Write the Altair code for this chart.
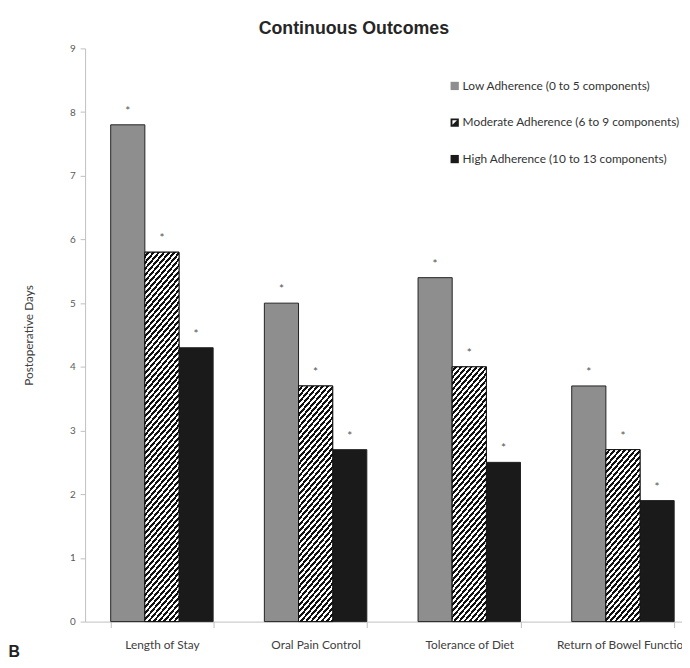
import math
import altair as alt
import pandas as pd

categories = ["Length of Stay", "Oral Pain Control", "Tolerance of Diet", "Return of Bowel Function"]
groups = ["Low Adherence (0 to 5 components)",
          "Moderate Adherence (6 to 9 components)",
          "High Adherence (10 to 13 components)"]
low_values = [7.8, 5.0, 5.4, 3.7]
moderate_values = [5.8, 3.7, 4.0, 2.7]
high_values = [4.3, 2.7, 2.5, 1.9]
y_ticks = [0, 1, 2, 3, 4, 5, 6, 7, 8, 9]

rows = []
for gi, vals in enumerate([low_values, moderate_values, high_values]):
    for c, v in zip(categories, vals):
        rows.append({"category": c, "group": groups[gi], "value": v})
df = pd.DataFrame(rows)

# layout
PAD_L, PAD_T, PAD_B = 78, 37, 35
W, H = 604, 580
X_RANGE = 622
STEP = X_RANGE / 4
BAR_W = STEP * (2 / 3) / 3
PX_PER_UNIT = H / 9

FONT = "Lato"
GRAY = "#8e8e8e"
BLACK = "#1a1a1a"


def hatch(value, angle=50, period=4.0):
    w = BAR_W
    h = value * PX_PER_UNIT
    th = math.radians(angle)
    s, c = math.sin(th), math.cos(th)
    L = s * w + c * h
    a, b = s * w / L, c * h / L
    D = a * a + b * b
    stops = []
    half = period / 2 / L
    j = 0
    while j * half < 1:
        col = "#ffffff" if j % 2 == 0 else "#111111"
        o0 = j * half
        o1 = min((j + 1) * half, 1.0)
        stops.append(alt.GradientStop(offset=o0, color=col))
        stops.append(alt.GradientStop(offset=o1, color=col))
        j += 1
    return alt.LinearGradient(gradient="linear", stops=stops,
                              x1=0, y1=0, x2=a / D, y2=b / D)


x_enc = alt.X("category:N", sort=categories,
              scale=alt.Scale(domain=categories, range=[0, X_RANGE],
                              paddingInner=1 / 3, paddingOuter=1 / 6),
              axis=alt.Axis(title="B", titleAnchor="start", titleAlign="left",
                            titleX=-78, titleY=35, titleBaseline="alphabetic",
                            titleFont="Liberation Sans", titleFontSize=16,
                            titleFontWeight="bold", titleColor="#222222",
                            labelAngle=0, labelFont=FONT, labelFontSize=12,
                            labelColor="#404040", labelPadding=12,
                            tickBand="extent", tickSize=6, tickColor="#bfbfbf",
                            domainColor="#bfbfbf", grid=False))
xoff_enc = alt.XOffset("group:N", sort=groups, scale=alt.Scale(domain=groups, paddingInner=0, paddingOuter=0))
y_enc = alt.Y("value:Q", scale=alt.Scale(domain=[0, 9], nice=False),
              axis=alt.Axis(title="Postoperative Days", values=y_ticks, grid=False,
                            titleFont=FONT, titleFontSize=12, titleFontWeight="normal",
                            titleColor="#404040", titlePadding=34,
                            labelFont=FONT, labelFontSize=10, labelColor="#595959",
                            labelPadding=5, tickSize=5, tickColor="#bfbfbf",
                            domainColor="#bfbfbf"))

color_scale = alt.Scale(domain=groups, range=[GRAY, BLACK, BLACK])
shape_scale = alt.Scale(domain=groups, range=[
    "square",
    "M-1,-1L1,-1L1,1L-1,1Z M-0.55,-0.55L-0.55,0.55L0.55,-0.55Z",
    "square"])

legend = alt.Legend(title=None, orient="none", legendX=368, legendY=32,
                    labelFont=FONT, labelFontSize=12, labelColor="#333333",
                    labelLimit=400,
                    symbolSize=70, symbolStrokeColor="#333333", symbolStrokeWidth=1,
                    symbolOpacity=1, rowPadding=23, labelOffset=2)

base = alt.Chart(df)

bars = base.mark_bar(stroke="#222222", strokeWidth=1).encode(
    x=x_enc, xOffset=xoff_enc, y=y_enc,
    color=alt.Color("group:N", scale=color_scale, legend=legend),
)

layers = [bars]
for cat, v in zip(categories, moderate_values):
    layers.append(
        base.transform_filter(
            (alt.datum.category == cat) & (alt.datum.group == groups[1])
        ).mark_bar(fill=hatch(v), stroke="#111111", strokeWidth=1).encode(
            x=x_enc, xOffset=xoff_enc, y=y_enc)
    )

pts = base.mark_point(filled=True, opacity=0, size=1).encode(
    x=x_enc, xOffset=xoff_enc, y=y_enc,
    color=alt.Color("group:N", scale=color_scale, legend=legend),
    shape=alt.Shape("group:N", scale=shape_scale, legend=legend),
)
layers.append(pts)

stars = base.mark_text(text="*", font=FONT, fontSize=12, color="#555555",
                       baseline="middle", dy=-14).encode(
    x=x_enc, xOffset=xoff_enc, y=y_enc)
layers.append(stars)

chart = alt.layer(*layers).properties(
    width=W, height=H,
    title=alt.TitleParams("Continuous Outcomes", font="Liberation Sans", fontSize=18,
                          fontWeight="bold", color="#262626", anchor="middle",
                          dx=-30, offset=6),
    autosize=alt.AutoSizeParams(type="none"),
    padding={"left": PAD_L, "top": PAD_T, "right": 0, "bottom": PAD_B},
).configure_view(stroke=None)

chart.save("out.html", embed_options={"renderer": "svg", "actions": False})
